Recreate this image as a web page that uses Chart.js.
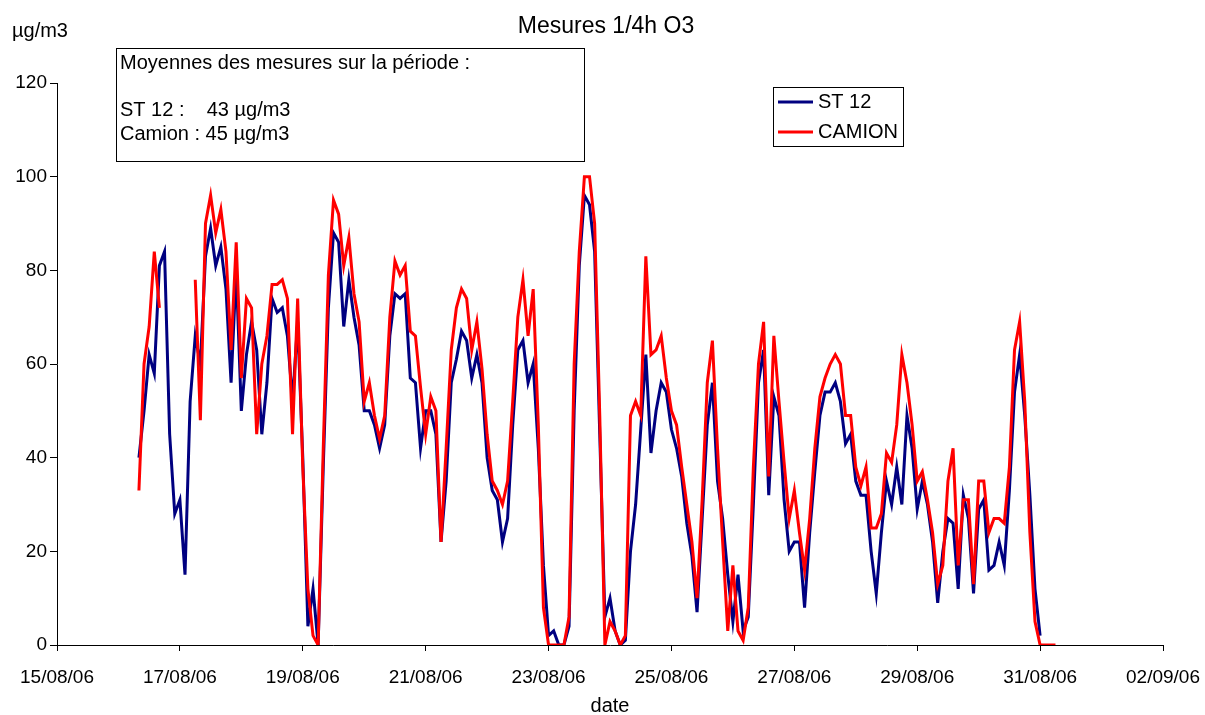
<!DOCTYPE html>
<html>
<head>
<meta charset="utf-8">
<script src="https://cdn.jsdelivr.net/npm/chart.js@4/dist/chart.umd.min.js"></script>
<style>
  html, body { margin: 0; padding: 0; background: #fff; }
  #wrap { width: 1205px; height: 715px; position: relative; }
</style>
</head>
<body>
<div id="wrap"><canvas id="o3Chart" width="1205" height="715"></canvas></div>
<script>
// 1/4h ozone measures, read every 2 hours, starting 16/08/06 08:00 (hour 32 after 15/08 00:00)
const START_HOUR = 32;
const STEP_HOUR = 2;

const st12 = [
    40, 50, 62, 58, 81, 84, 45, 28, 31, 15, 52, 66, 60, 83, 89, 81, 85, 76, 56, 80,
    50, 62, 69, 63, 45, 56, 74, 71, 72, 66, 52, 69, 40, 4, 12, 0, 38, 72, 88, 86,
    68, 78, 70, 64, 50, 50, 47, 42, 47, 66, 75, 74, 75, 57, 56, 42, 50, 50, 45, 22,
    35, 56, 61, 67, 65, 57, 62, 56, 40, 33, 31, 22, 27, 47, 63, 65, 56, 60, 42, 17,
    2, 3, 0, 0, 4, 50, 81, 96, 94, 84, 45, 6, 10, 3, 0, 1, 20, 30, 46, 62,
    41, 50, 56, 54, 46, 42, 36, 26, 19, 7, 27, 47, 56, 35, 27, 15, 5, 15, 3, 6,
    30, 56, 63, 32, 53, 49, 31, 20, 22, 22, 8, 24, 37, 49, 54, 54, 56, 52, 43, 45,
    35, 32, 32, 20, 11, 24, 35, 30, 38, 30, 49, 42, 29, 35, 30, 22, 9, 20, 27, 26,
    12, 32, 27, 11, 29, 31, 16, 17, 22, 17, 33, 54, 62, 49, 32, 12, 2, null, null, null
];

const camion = [
    33, 60, 68, 84, 72, null, null, null, null, null, null, 78, 48, 90, 96, 88, 93, 84, 63, 86,
    57, 74, 72, 45, 60, 66, 77, 77, 78, 74, 45, 74, 38, 12, 2, 0, 42, 79, 95, 92,
    81, 87, 75, 69, 52, 56, 49, 44, 49, 70, 82, 79, 81, 67, 66, 55, 45, 53, 50, 22,
    42, 63, 72, 76, 74, 63, 69, 59, 45, 35, 33, 30, 35, 52, 70, 78, 66, 76, 47, 8,
    0, 0, 0, 0, 6, 60, 84, 100, 100, 90, 49, 0, 5, 3, 0, 2, 49, 52, 49, 83,
    62, 63, 66, 57, 50, 47, 38, 30, 22, 10, 31, 56, 65, 42, 22, 3, 17, 3, 1, 8,
    38, 60, 69, 36, 66, 52, 39, 27, 33, 24, 16, 27, 42, 53, 57, 60, 62, 60, 49, 49,
    38, 34, 38, 25, 25, 28, 41, 39, 47, 62, 56, 47, 35, 37, 31, 24, 13, 17, 35, 42,
    17, 31, 31, 13, 35, 35, 24, 27, 27, 26, 38, 63, 69, 52, 24, 5, 0, 0, 0, 0
];

const seriesNames = ['ST 12', 'CAMION'];
const seriesColors = ['#000080', '#ff0000'];
const yTicks = [0, 20, 40, 60, 80, 100, 120];
const startDate = new Date(2006, 7, 15); // 15/08/06

const FONT = '"Liberation Sans", Arial, sans-serif';

function toPoints(values) {
    return values.map((v, i) => ({ x: (START_HOUR + i * STEP_HOUR) / 24, y: v }));
}

function dayLabel(day) {
    const d = new Date(startDate.getTime());
    d.setDate(d.getDate() + day);
    const dd = String(d.getDate()).padStart(2, '0');
    const mm = String(d.getMonth() + 1).padStart(2, '0');
    const yy = String(d.getFullYear()).slice(2);
    return `${dd}/${mm}/${yy}`;
}

// texts and boxes around the plot
const decorations = {
    id: 'decorations',
    afterDraw(chart) {
        const ctx = chart.ctx;
        ctx.save();
        ctx.fillStyle = '#000';
        ctx.textBaseline = 'middle';

        ctx.font = `23px ${FONT}`;
        ctx.textAlign = 'center';
        ctx.fillText('Mesures 1/4h O3', 606, 27);

        ctx.font = `20px ${FONT}`;
        ctx.textAlign = 'left';
        ctx.fillText('µg/m3', 12, 31);

        // averages box
        ctx.strokeStyle = '#000';
        ctx.lineWidth = 1;
        ctx.fillStyle = '#fff';
        ctx.fillRect(116.5, 48.5, 468, 113);
        ctx.strokeRect(116.5, 48.5, 468, 113);
        ctx.fillStyle = '#000';
        ctx.font = `20px ${FONT}`;
        ctx.fillText('Moyennes des mesures sur la période :', 120, 63);
        ctx.fillText('ST 12 :    43 µg/m3', 120, 110);
        ctx.fillText('Camion : 45 µg/m3', 120, 134);

        // legend box
        ctx.fillStyle = '#fff';
        ctx.fillRect(773.5, 87.5, 130, 59);
        ctx.strokeRect(773.5, 87.5, 130, 59);
        seriesNames.forEach((name, i) => {
            const y = 102 + i * 30;
            ctx.strokeStyle = seriesColors[i];
            ctx.lineWidth = 3;
            ctx.beginPath();
            ctx.moveTo(778, y);
            ctx.lineTo(813, y);
            ctx.stroke();
            ctx.fillStyle = '#000';
            ctx.fillText(name, 818, y);
        });
        ctx.restore();
    }
};

const ctx = document.getElementById('o3Chart').getContext('2d');
const chart = new Chart(ctx, {
    type: 'line',
    data: {
        datasets: [{
            label: seriesNames[0],
            data: toPoints(st12),
            borderColor: seriesColors[0],
            borderWidth: 3,
            pointRadius: 0,
            tension: 0,
            spanGaps: false,
            order: 2
        }, {
            label: seriesNames[1],
            data: toPoints(camion),
            borderColor: seriesColors[1],
            borderWidth: 3,
            pointRadius: 0,
            tension: 0,
            spanGaps: false,
            order: 1
        }]
    },
    options: {
        responsive: false,
        animation: false,
        layout: { padding: { top: 83, left: 0, right: 42, bottom: 0 } },
        plugins: {
            legend: { display: false },
            title: { display: false },
            tooltip: { enabled: false }
        },
        scales: {
            x: {
                type: 'linear',
                min: 0,
                max: 18,
                afterFit: scale => {
                    scale.height = 70;
                    scale.paddingLeft = 0;
                    scale.paddingRight = 0;
                },
                afterBuildTicks: scale => {
                    scale.ticks = [];
                    for (let d = 0; d <= 18; d += 2) scale.ticks.push({ value: d });
                },
                border: { display: true, color: '#000', width: 1 },
                grid: { display: true, drawOnChartArea: false, drawTicks: true, tickLength: 6, color: '#000' },
                ticks: {
                    color: '#000',
                    font: { family: FONT, size: 19 },
                    padding: 15,
                    maxRotation: 0,
                    autoSkip: false,
                    callback: v => dayLabel(v)
                },
                title: {
                    display: true,
                    text: 'date',
                    color: '#000',
                    font: { family: FONT, size: 20 },
                    padding: { top: 0, bottom: -3 }
                }
            },
            y: {
                min: 0,
                max: 120,
                afterFit: scale => { scale.width = 57; },
                afterBuildTicks: scale => { scale.ticks = yTicks.map(v => ({ value: v })); },
                border: { display: true, color: '#000', width: 1 },
                grid: { display: true, drawOnChartArea: false, drawTicks: true, tickLength: 7, color: '#000' },
                ticks: {
                    color: '#000',
                    font: { family: FONT, size: 19 },
                    padding: 3
                }
            }
        }
    },
    plugins: [decorations]
});
</script>
</body>
</html>
